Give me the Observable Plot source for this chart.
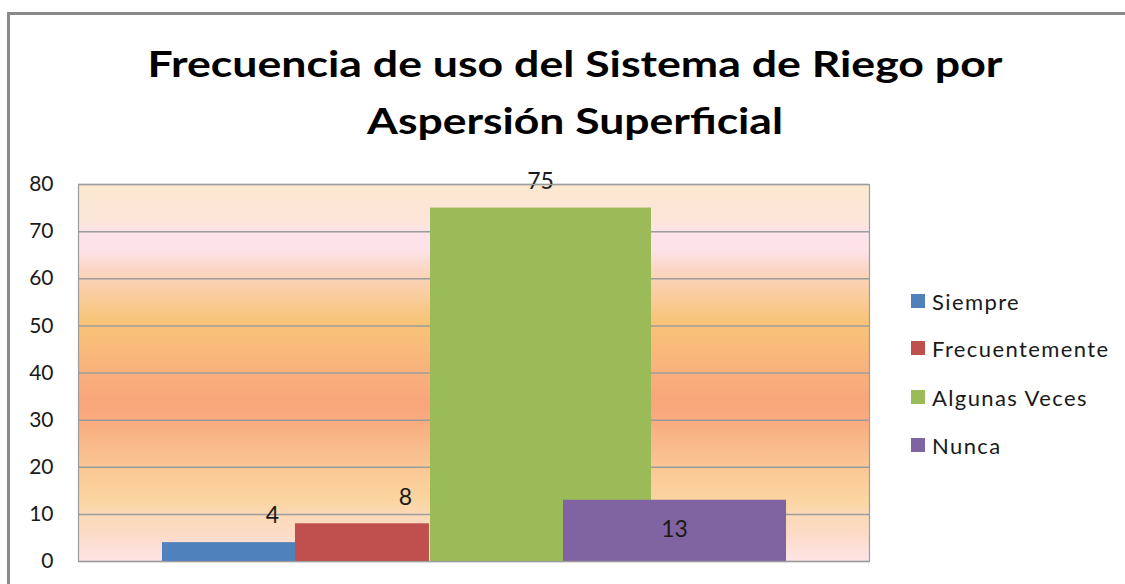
<!DOCTYPE html>
<html>
<head>
<meta charset="utf-8">
<script src="https://cdn.jsdelivr.net/npm/d3@7"></script>
<script src="https://cdn.jsdelivr.net/npm/@observablehq/plot@0.6"></script>
<style>
  body { margin: 0; background: #fff; width: 1125px; height: 584px; overflow: hidden; position: relative; font-family: Lato, "Open Sans", sans-serif; }
  #outer { position: absolute; left: 7px; top: 12px; width: 1300px; height: 700px; border-left: 3px solid #8a8a8a; border-top: 3px solid #8a8a8a; box-sizing: border-box; }
  #title { position: absolute; left: 0; top: 0; }
  #chart { position: absolute; left: 0; top: 150px; }
  .leg { position: absolute; left: 911px; height: 24px; display: flex; align-items: center; font-size: 22px; letter-spacing: 1.4px; color: #1a1a1a; white-space: nowrap; }
  .leg span.sw { display: inline-block; width: 14px; height: 14px; margin-right: 7px; }
</style>
</head>
<body>
<div id="outer"></div>
<div id="title"></div>
<div id="chart"></div>
<div id="legend"></div>
<script>
// ---- data ----
const categories = ["Siempre", "Frecuentemente", "Algunas Veces", "Nunca"];
const values = [4, 8, 75, 13];
const colors = ["#4F81BD", "#C0504D", "#9BBB59", "#8064A2"];
const yTicks = [0, 10, 20, 30, 40, 50, 60, 70, 80];
const titleLines = ["Frecuencia de uso del Sistema de Riego por", "Aspersión Superficial"];

// ---- layout (fractions of plot width, pixel offsets) ----
const barSpans = [[0.1062, 0.2743], [0.2743, 0.4437], [0.4450, 0.7244], [0.6131, 0.8951]];
const labelX = [0.2453, 0.4134, 0.5841, 0.7535];
const labelDy = [-27, -26, -26, 29];
const bgStops = [
  [80, "#FBE8CF"], [72, "#FCE5DA"], [70, "#FDE3EA"], [66, "#FDE3E8"], [62, "#FBD6C4"],
  [58, "#FACFA8"], [51, "#F8C477"], [45, "#F9BA7A"], [40, "#F9B07D"], [34, "#F8A67A"],
  [30, "#F9AB7F"], [25, "#F9B98A"], [20, "#FAC794"], [13, "#FBD5A0"], [10, "#FBD9B6"],
  [5, "#FCDCCB"], [0, "#FDE4E6"]
];

const rows = categories.map((c, i) => ({
  category: c, value: values[i], x1: barSpans[i][0], x2: barSpans[i][1], lx: labelX[i]
}));

// ---- title ----
const tsvg = d3.select("#title").append("svg").attr("width", 1125).attr("height", 150);
const tWidths = [855, 416];
const tBase = [77, 134];
titleLines.forEach((t, i) => {
  tsvg.append("text")
    .attr("x", 575).attr("y", tBase[i])
    .attr("text-anchor", "middle")
    .attr("font-family", "Lato, 'Open Sans', sans-serif")
    .attr("font-weight", "bold")
    .attr("font-size", 37)
    .attr("fill", "#000")
    .attr("textLength", tWidths[i])
    .attr("lengthAdjust", "spacingAndGlyphs")
    .text(t);
});

// ---- chart ----
const defsMark = () => {
  const defs = d3.create("svg:defs");
  const g = defs.append("linearGradient").attr("id", "bg")
    .attr("x1", 0).attr("x2", 0).attr("y1", 0).attr("y2", 1);
  bgStops.forEach(([v, c]) => g.append("stop").attr("offset", (80 - v) / 80).attr("stop-color", c));
  return defs.node();
};

const chart = Plot.plot({
  width: 1125,
  height: 434,
  marginTop: 34,
  marginBottom: 23,
  marginLeft: 78,
  marginRight: 256,
  style: { fontFamily: "Lato, 'Open Sans', sans-serif", color: "#1a1a1a", background: "transparent" },
  x: { domain: [0, 1], axis: null },
  y: { domain: [0, 80], axis: null, label: null },
  color: { domain: categories, range: colors },
  marks: [
    defsMark,
    Plot.frame({ fill: "url(#bg)", stroke: null }),
    Plot.ruleY(yTicks, { stroke: "#9c9c9c", strokeWidth: 1.5 }),
    Plot.rectY(rows, { x1: "x1", x2: "x2", y1: 0, y2: "value", fill: "category" }),
    ...rows.map((r, i) => Plot.text([r], {
      x: "lx", y: "value", text: d => String(d.value), dy: labelDy[i], fontSize: 23, fill: "#1a1a1a"
    })),
    Plot.frame({ stroke: "#9c9c9c", strokeWidth: 1.2 }),
    Plot.axisY({ ticks: yTicks, tickSize: 0, tickPadding: 25, fontSize: 21, label: null, tickFormat: d => String(d) })
  ]
});
document.getElementById("chart").appendChild(chart);

// ---- legend ----
const legTops = [301, 348, 397, 445];
const leg = d3.select("#legend");
categories.forEach((c, i) => {
  const item = leg.append("div").attr("class", "leg").style("top", (legTops[i] - 12) + "px");
  item.append("span").attr("class", "sw").style("background", colors[i]);
  item.append("span").text(c);
});
</script>
</body>
</html>
